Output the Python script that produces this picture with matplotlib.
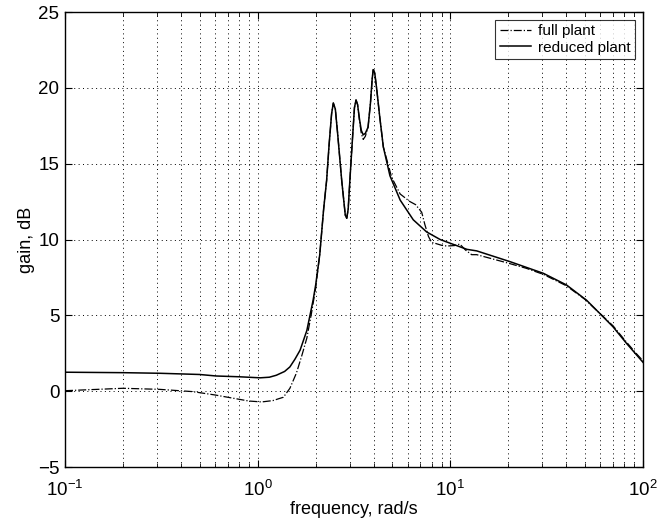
import matplotlib
matplotlib.use("Agg")
import matplotlib.pyplot as plt
from matplotlib.ticker import FixedLocator, FixedFormatter, LogLocator, NullFormatter

plt.rcParams['font.family'] = ['Liberation Sans', 'DejaVu Sans']
plt.rcParams['mathtext.fontset'] = 'custom'
plt.rcParams['mathtext.rm'] = 'Liberation Sans'

# reduced plant (solid)
freq_red = [0.1, 0.2, 0.31, 0.5, 0.61, 0.8, 1.03, 1.15, 1.25, 1.38, 1.47, 1.56,
            1.66, 1.8, 1.94, 2.0, 2.1, 2.2, 2.28, 2.35, 2.42, 2.47, 2.53, 2.6,
            2.73, 2.85, 2.9, 2.95, 3.01, 3.1, 3.18, 3.24, 3.3, 3.38, 3.45, 3.53,
            3.62, 3.74, 3.85, 3.93, 3.98, 4.05, 4.15, 4.3, 4.49, 4.86, 5.49,
            6.42, 7.53, 8.85, 10.0, 12.2, 13.7, 20.4, 30.4, 40.1, 50.9, 59.6,
            69.8, 82.0, 100.0]
gain_red = [1.25, 1.22, 1.18, 1.1, 1.0, 0.95, 0.88, 0.92, 1.05, 1.3, 1.6, 2.1,
            2.7, 4.0, 6.0, 7.0, 9.0, 12.0, 13.9, 16.3, 18.3, 19.0, 18.6, 17.0,
            13.9, 11.6, 11.4, 12.0, 13.9, 16.5, 18.7, 19.2, 18.9, 17.9, 17.2, 16.9,
            17.0, 17.4, 19.0, 20.6, 21.2, 21.0, 19.9, 18.1, 16.1, 14.2, 12.6,
            11.3, 10.5, 10.0, 9.75, 9.35, 9.25, 8.54, 7.77, 7.0, 6.0, 5.13,
            4.25, 3.16, 1.9]

# full plant (dash-dot)
freq_full = [0.1, 0.2, 0.31, 0.46, 0.6, 0.75, 0.9, 1.05, 1.2, 1.36, 1.47, 1.59,
             1.7, 1.8, 1.9, 2.0, 2.1, 2.2, 2.28, 2.35, 2.42, 2.47, 2.53, 2.6,
             2.73, 2.85, 2.9, 2.95, 3.01, 3.1, 3.18, 3.24, 3.3, 3.38, 3.45, 3.53,
             3.62, 3.74, 3.85, 3.93, 3.98, 4.05, 4.15, 4.3, 4.49, 4.96, 5.49,
             6.17, 6.6, 7.1, 7.37, 7.7, 8.0, 8.33, 9.0, 9.57, 10.5, 11.2, 12.0,
             12.9, 13.7, 19.6, 24.8, 30.4, 40.0, 50.0, 60.0, 70.0, 80.0, 92.0,
             100.0]
gain_full = [0.03, 0.19, 0.12, -0.03, -0.25, -0.47, -0.65, -0.71, -0.62, -0.4,
             0.19, 1.2, 2.4, 3.5, 5.1, 6.8, 9.0, 12.0, 13.9, 16.3, 18.3, 19.0,
             18.6, 17.0, 13.9, 11.6, 11.4, 12.0, 13.9, 16.5, 18.7, 19.2, 18.9,
             17.8, 17.0, 16.6, 16.8, 17.4, 19.0, 20.6, 21.2, 21.0, 19.9, 18.1,
             16.1, 14.1, 13.0, 12.5, 12.3, 11.8, 11.0, 10.2, 9.8, 9.75, 9.62,
             9.57, 9.6, 9.7, 9.3, 9.0, 9.0, 8.47, 8.1, 7.7, 6.95, 6.05, 5.1,
             4.3, 3.4, 2.5, 2.0]

xticks = [0.1, 1, 10, 100]
xticklabels = [r'$\mathregular{10^{-1}}$', r'$\mathregular{10^{0}}$',
               r'$\mathregular{10^{1}}$', r'$\mathregular{10^{2}}$']
yticks = [-5, 0, 5, 10, 15, 20, 25]

fig = plt.figure(figsize=(6.61, 5.29), dpi=100)
ax = fig.add_axes([0.0983, 0.1172, 0.8745, 0.8601])

ax.semilogx(freq_full, gain_full, color='black', linestyle='-.', linewidth=0.9,
            label='full plant')
ax.semilogx(freq_red, gain_red, color='black', linestyle='-', linewidth=1.1,
            label='reduced plant')

ax.set_xlim(0.1, 100)
ax.set_ylim(-5, 25)
ax.xaxis.set_major_locator(FixedLocator(xticks))
ax.xaxis.set_major_formatter(FixedFormatter(xticklabels))
ax.xaxis.set_minor_locator(LogLocator(base=10, subs=range(2, 10)))
ax.xaxis.set_minor_formatter(NullFormatter())
ax.set_yticks(yticks)
ax.set_yticklabels([str(v).replace('-', '\u2212') for v in yticks])

ax.grid(True, which='major', axis='both', color='black', linestyle=(0, (1, 3.5)),
        linewidth=0.7)
ax.grid(True, which='minor', axis='x', color='black', linestyle=(0, (1, 3.5)),
        linewidth=0.7)

ax.tick_params(which='both', direction='in', top=True, right=True,
               labelsize=13.5)
ax.tick_params(axis='x', pad=9)
ax.tick_params(axis='y', pad=4)
ax.tick_params(which='major', length=5)
ax.tick_params(which='minor', length=3)
for s in ax.spines.values():
    s.set_linewidth(1.0)

ax.set_xlabel('frequency, rad/s', fontsize=13, labelpad=1)
ax.set_ylabel('gain, dB', fontsize=13, labelpad=2)

leg = ax.legend(loc='upper right', fontsize=11, frameon=True, fancybox=False,
                borderpad=0.3, handlelength=2.0, handletextpad=0.5,
                labelspacing=0.15, borderaxespad=0.5)
leg.get_frame().set_edgecolor('black')
leg.get_frame().set_linewidth(0.8)

fig.savefig('out.png', dpi=100)
